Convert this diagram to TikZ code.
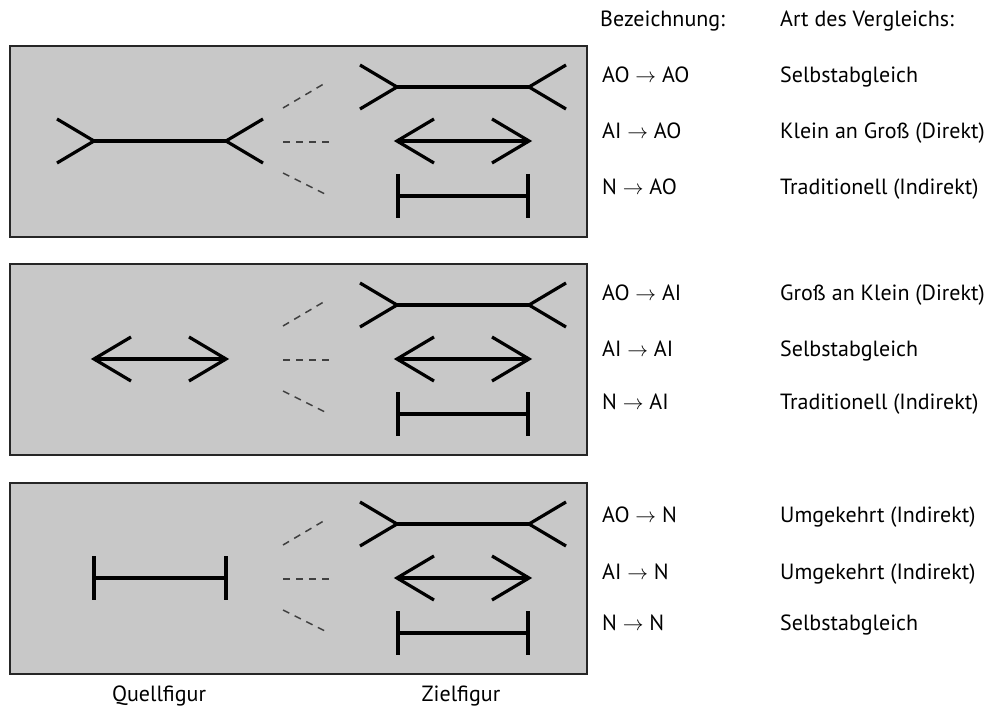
\documentclass[tikz,border=0pt]{standalone}
\usepackage{fontspec}
\setmainfont{PT Sans}
\definecolor{panelgray}{HTML}{C8C8C8}
\newcommand\figArrowFins[4]{% x1 x2 y dx (dx<0: fins outward)
  \draw[figline] (#1,#3) -- (#2,#3);
  \draw[figline] ({#1+(#4)},{#3-22}) -- (#1,#3) -- ({#1+(#4)},{#3+22});
  \draw[figline] ({#2-(#4)},{#3-22}) -- (#2,#3) -- ({#2-(#4)},{#3+22});}
\newcommand\figBars[3]{% x1 x2 y
  \draw[figline] (#1,#3) -- (#2,#3);
  \draw[figline] (#1,{#3-22}) -- (#1,{#3+22});
  \draw[figline] (#2,{#3-22}) -- (#2,{#3+22});}
\newcommand\figPanel[2]{% top, source type
  \draw[panel] (10,#1) rectangle (587,{#1+191});
  \ifcase#2
    \figArrowFins{94}{226}{#1+95}{-37}\or
    \figArrowFins{94}{226}{#1+95}{37}\or
    \figBars{94}{226}{#1+95}\fi
  \draw[guide] (283,{#1+62}) -- (327,{#1+36});
  \draw[guide] (283,{#1+96}) -- (330,{#1+96});
  \draw[guide] (283,{#1+127}) -- (329,{#1+150});
  \figArrowFins{397}{529}{#1+41}{-37}
  \figArrowFins{397}{529}{#1+95}{37}
  \figBars{398}{528}{#1+150}}
\begin{document}
\begin{tikzpicture}[x=1pt,y=-1pt,
  figline/.style={line width=3.2pt, line cap=butt, line join=miter},
  panel/.style={fill=panelgray, draw=black!85, line width=2.4pt},
  guide/.style={draw=black!75, line width=1.5pt, dash pattern=on 7pt off 6pt},
  lbl/.style={anchor=base west, inner sep=0pt, font=\fontsize{22}{26}\selectfont},
  captionlbl/.style={anchor=base, inner sep=0pt, font=\fontsize{22}{26}\selectfont}]
\useasboundingbox (0,0) rectangle (986,706);
\fill[white] (0,0) rectangle (986,706);

\figPanel{46}{0}
\figPanel{264}{1}
\figPanel{483}{2}

\node[lbl] (h1) at (600,27) {Bezeichnung:};
\node[lbl] (h2) at (780,27) {Art des Vergleichs:};

\node[lbl] (a1) at (602,83) {AO $\rightarrow$ AO};
\node[lbl] (a2) at (602,139) {AI $\rightarrow$ AO};
\node[lbl] (a3) at (602,194) {N $\rightarrow$ AO};
\node[lbl] (b1) at (780,83) {Selbstabgleich};
\node[lbl] (b2) at (780,139) {Klein an Groß (Direkt)};
\node[lbl] (b3) at (780,194) {Traditionell (Indirekt)};

\node[lbl] (a4) at (602,300) {AO $\rightarrow$ AI};
\node[lbl] (a5) at (602,356) {AI $\rightarrow$ AI};
\node[lbl] (a6) at (602,409) {N $\rightarrow$ AI};
\node[lbl] (b4) at (780,300) {Groß an Klein (Direkt)};
\node[lbl] (b5) at (780,356) {Selbstabgleich};
\node[lbl] (b6) at (780,409) {Traditionell (Indirekt)};

\node[lbl] (a7) at (602,522) {AO $\rightarrow$ N};
\node[lbl] (a8) at (602,579) {AI $\rightarrow$ N};
\node[lbl] (a9) at (602,630) {N $\rightarrow$ N};
\node[lbl] (b7) at (780,522) {Umgekehrt (Indirekt)};
\node[lbl] (b8) at (780,579) {Umgekehrt (Indirekt)};
\node[lbl] (b9) at (780,630) {Selbstabgleich};

\node[captionlbl] (q) at (159,701) {Quellfigur};
\node[captionlbl] (z) at (461,701) {Zielfigur};
\end{tikzpicture}
\end{document}
